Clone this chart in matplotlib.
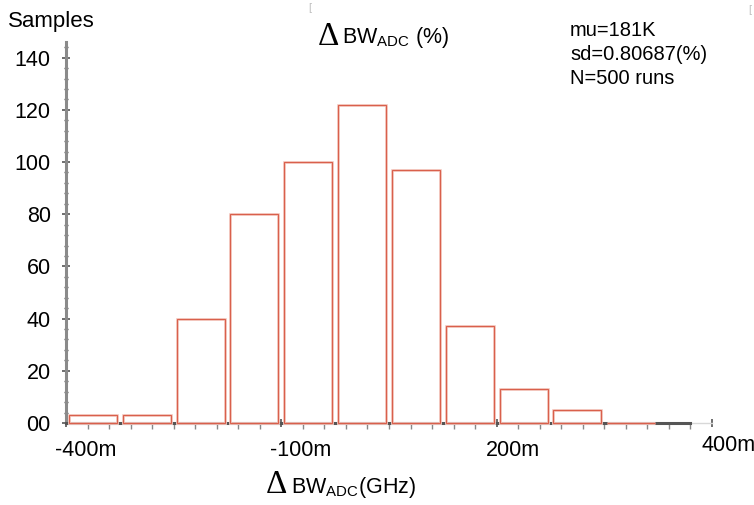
import matplotlib

matplotlib.use("Agg")
import matplotlib.pyplot as plt
import matplotlib.transforms as mtransforms
import numpy as np

# histogram of bandwidth deviation, x in milli-GHz units
BIN_CENTERS = [-362.5, -287.5, -212.5, -137.5, -62.5, 12.5, 87.5, 162.5, 237.5, 312.5, 387.5]
COUNTS = [3, 3, 40, 80, 100, 122, 97, 37, 13, 5, 0]
BAR_WIDTH = 67

X_TICKS = [-400, -100, 200, 500]
X_TICK_LABELS = ["-400m", "-100m", "200m", "400m"]
Y_TICKS = [0, 20, 40, 60, 80, 100, 120, 140]
Y_TICK_LABELS = ["00", "20", "40", "60", "80", "100", "120", "140"]
STATS_LINES = ["mu=181K", "sd=0.80687(%)", "N=500 runs"]

W, H = 754, 505
plt.rcParams["font.family"] = ["Liberation Sans", "DejaVu Sans"]
plt.rcParams["mathtext.fontset"] = "custom"
plt.rcParams["mathtext.rm"] = "Liberation Sans"
plt.rcParams["mathtext.it"] = "Liberation Sans:italic"

fig = plt.figure(figsize=(W / 100, H / 100), dpi=100)
ax = fig.add_axes([66 / W, 1 - 423 / H, 646 / W, (423 - 42) / H])

# light halo + red outline, like the antialiased original
ax.bar(BIN_CENTERS, COUNTS, width=BAR_WIDTH, fill=False, edgecolor="#f6cfc7",
       linewidth=2.0, zorder=3, clip_on=False)
ax.bar(BIN_CENTERS, COUNTS, width=BAR_WIDTH, fill=False, edgecolor="#d9604c",
       linewidth=0.9, zorder=4, clip_on=False)

ax.set_xlim(-400, 500)
ax.set_ylim(0, 146)

for s in ["top", "right"]:
    ax.spines[s].set_visible(False)
ax.spines["left"].set_color("#8a8a8a")
ax.spines["left"].set_linewidth(2.2)
ax.spines["bottom"].set_color("#555555")
ax.spines["bottom"].set_linewidth(2.2)
ax.spines["bottom"].set_bounds(-400, 470)
ax.plot([470, 500], [0, 0], color="#d8d8d8", lw=1.0, clip_on=False, zorder=2)

ax.set_yticks(Y_TICKS)
ax.set_yticklabels(Y_TICK_LABELS)
ax.set_yticks(np.arange(0, 146, 4), minor=True)
ax.tick_params(axis="y", which="major", direction="inout", length=6, width=1.2,
               color="#555555", pad=8, labelsize=15.5)
ax.tick_params(axis="y", which="minor", direction="inout", length=3, width=1,
               color="#555555")

ax.set_xticks(X_TICKS)
ax.set_xticklabels(X_TICK_LABELS)
ax.set_xticks(np.arange(-400, 471, 30), minor=True)
ax.tick_params(axis="x", which="major", direction="inout", length=6, width=1.2,
               color="#555555", pad=9, labelsize=15.5)
ax.tick_params(axis="x", which="minor", direction="out", length=4, width=1,
               color="#888888")
for i, lab in enumerate(ax.get_xticklabels()):
    lab.set_horizontalalignment("left")
    dy = 5 / 100 if i == len(X_TICK_LABELS) - 1 else 0
    lab.set_transform(lab.get_transform() + mtransforms.ScaledTranslation(
        -11 / 100, dy, fig.dpi_scale_trans))

# texts around the plot
fig.text(8 / W, 1 - 22 / H, "Samples", fontsize=16, va="center", ha="left")
for i, line in enumerate(STATS_LINES):
    fig.text(570 / W, 1 - (30 + 24 * i) / H, line, fontsize=14.5, va="center", ha="left")

fig.text(318 / W, 1 - 37 / H, "\u0394", family="Liberation Serif", fontsize=24,
         va="center", ha="left")
fig.text(342 / W, 1 - 38 / H, r"BW$_{\mathrm{ADC}}$ (%)", fontsize=15.5,
         va="center", ha="left")

fig.text(266 / W, 1 - 485 / H, "\u0394", family="Liberation Serif", fontsize=24,
         va="center", ha="left")
fig.text(291 / W, 1 - 487 / H, r"BW$_{\mathrm{ADC}}$(GHz)", fontsize=15.5,
         va="center", ha="left")

# small stray marks in the original screenshot
fig.text(308 / W, 1 - 8 / H, "[", fontsize=8, color="#c0c0c0", va="center")
fig.text(748 / W, 1 - 10 / H, "[", fontsize=8, color="#c0c0c0", va="center")

fig.savefig("out.png", dpi=100)
